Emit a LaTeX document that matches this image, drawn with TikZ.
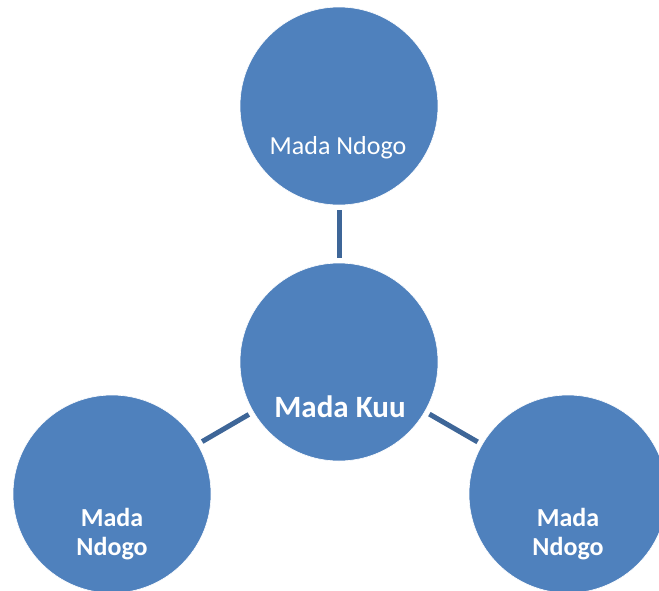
\documentclass[tikz,border=0pt]{standalone}
\usepackage{fontspec}
\setmainfont{Carlito}
\usepackage{xcolor}
\usepackage{tikz}
\definecolor{topicblue}{HTML}{4F81BD}
\definecolor{linkblue}{HTML}{3E6698}
\tikzset{topic/.style = {circle, fill=topicblue, draw=white, line width=0.6pt, minimum size=198pt, inner sep=0pt}}
\tikzset{topictext/.style = {text=white, align=center, font=\fontsize{26}{28.5}\selectfont\bfseries}}
\tikzset{link/.style = {draw=linkblue, line width=5pt, shorten <=5pt, shorten >=5pt}}
\begin{document}
\begin{tikzpicture}[x=1pt, y=-1pt]

  \useasboundingbox (0,0) rectangle (659,590);
  \clip (0,0) rectangle (659,590);

  \node[topic] (top) at (339,106) {};
  \node[topic] (main) at (339,362) {};
  \node[topic] (left) at (112,494) {};
  \node[topic] (right) at (568,494) {};

  \draw[link] (top)--(main);
  \draw[link] (left)--(main);
  \draw[link] (right)--(main);

  \node[topictext, font=\fontsize{26}{30}\selectfont] (toptext) at (338,148) {Mada Ndogo};
  \node[topictext, font=\fontsize{31}{34}\selectfont\bfseries] (maintext) at (340,407) {Mada Kuu};
  \node[topictext] (lefttext) at (112,534) {Mada\\Ndogo};
  \node[topictext] (righttext) at (568,534) {Mada\\Ndogo};

\end{tikzpicture}
\end{document}
